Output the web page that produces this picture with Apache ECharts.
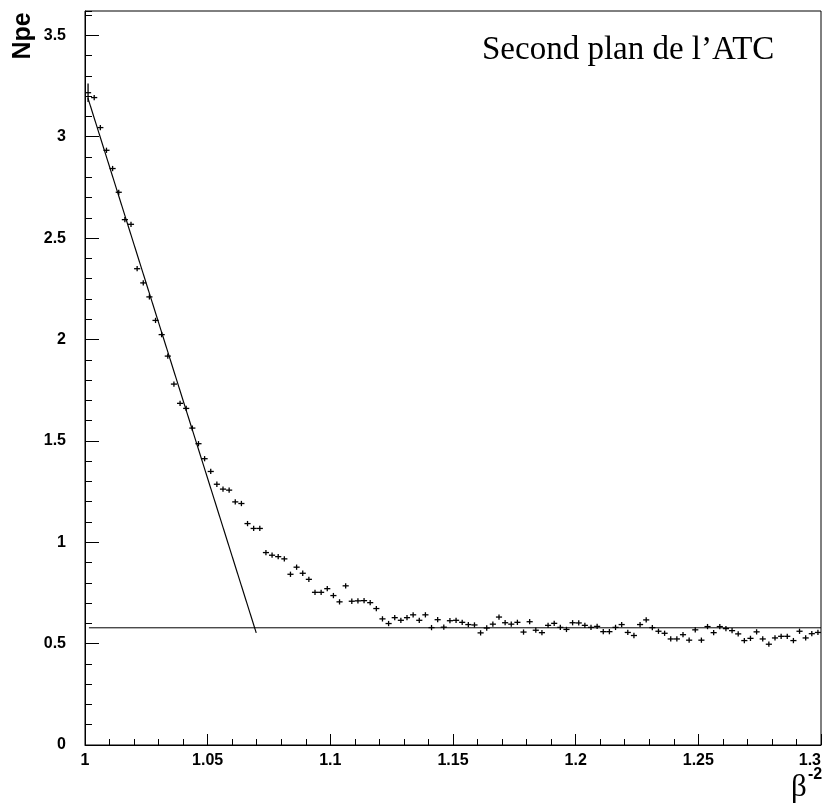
<!DOCTYPE html>
<html>
<head>
<meta charset="utf-8">
<script src="https://cdn.jsdelivr.net/npm/echarts@6/dist/echarts.min.js"></script>
<style>html,body{margin:0;padding:0;background:#fff;}#c{width:832px;height:806px;}</style>
</head>
<body>
<div id="c"></div>
<script>
// Histogram binning (x = beta^-2)
const binLow = 1.0;
const binWidth = 0.0025;
// Npe per bin (120 bins from 1.0 to 1.3)
const npe = [
  3.217, 3.193, 3.045, 2.933, 2.843, 2.726, 2.591, 2.568, 2.349, 2.279,
  2.210, 2.094, 2.024, 1.918, 1.780, 1.685, 1.660, 1.563, 1.486, 1.412,
  1.349, 1.286, 1.262, 1.257, 1.199, 1.191, 1.092, 1.068, 1.068, 0.949,
  0.936, 0.929, 0.918, 0.842, 0.877, 0.847, 0.817, 0.753, 0.753, 0.771,
  0.737, 0.706, 0.785, 0.709, 0.711, 0.712, 0.702, 0.673, 0.622, 0.599,
  0.628, 0.615, 0.628, 0.642, 0.615, 0.642, 0.579, 0.618, 0.581, 0.613,
  0.615, 0.605, 0.594, 0.592, 0.553, 0.577, 0.596, 0.631, 0.603, 0.596,
  0.605, 0.557, 0.608, 0.566, 0.554, 0.590, 0.600, 0.580, 0.570, 0.603,
  0.602, 0.590, 0.580, 0.585, 0.559, 0.559, 0.580, 0.594, 0.555, 0.540,
  0.594, 0.617, 0.579, 0.561, 0.551, 0.523, 0.523, 0.544, 0.517, 0.568,
  0.517, 0.584, 0.554, 0.584, 0.574, 0.564, 0.548, 0.515, 0.526, 0.558,
  0.523, 0.497, 0.528, 0.536, 0.536, 0.515, 0.561, 0.528, 0.549, 0.555
];
// vertical error bars
const errFirst = 0.046;
const errOther = 0.013;
// fitted straight line (steep part) and flat background level
const fitSteep = [[1.0012, 3.19], [1.0698, 0.553]];
const fitFlat = [[1.0016, 0.578], [1.3, 0.578]];
// axes
const xMin = 1.0, xMax = 1.3, xMajor = 0.05;
const yMin = 0, yMax = 3.62, yMajor = 0.5, yMinor = 0.1;

const points = npe.map((v, i) => [binLow + binWidth * (i + 0.5), v, i === 0 ? errFirst : errOther]);

const chart = echarts.init(document.getElementById('c'), null, {renderer: 'canvas'});
const labelFont = {fontFamily: 'Liberation Sans, Arial, sans-serif', fontWeight: 'bold', fontSize: 16, color: '#000'};

chart.setOption({
  animation: false,
  backgroundColor: '#fff',
  grid: {left: 85, right: 11, top: 11, bottom: 61, show: true, borderColor: '#000', borderWidth: 1, backgroundColor: 'transparent'},
  xAxis: [{
    type: 'value', min: xMin, max: xMax, interval: xMajor,
    axisLine: {show: true, lineStyle: {color: '#000', width: 1}},
    axisTick: {show: true, inside: true, length: 11, lineStyle: {color: '#000'}},
    minorTick: {show: true, splitNumber: 5, length: 6, lineStyle: {color: '#000'}},
    splitLine: {show: false},
    axisLabel: Object.assign({margin: 8, alignMaxLabel: 'right', formatter: v => String(+v.toFixed(2))}, labelFont)
  }],
  yAxis: [{
    type: 'value', min: yMin, max: yMax, interval: yMajor,
    axisLine: {show: true, lineStyle: {color: '#000', width: 1}},
    axisTick: {show: true, inside: true, length: 14, lineStyle: {color: '#000'}},
    splitLine: {show: false},
    axisLabel: Object.assign({margin: 19, showMaxLabel: false, formatter: v => String(+v.toFixed(2))}, labelFont)
  }, {
    type: 'value', min: yMin, max: yMax, interval: yMinor, position: 'left',
    axisLine: {show: false},
    axisTick: {show: true, inside: true, length: 7, lineStyle: {color: '#000'}},
    splitLine: {show: false},
    axisLabel: {show: false}
  }],
  series: [{
    type: 'custom',
    data: points,
    renderItem: function (params, api) {
      const x = api.value(0), y = api.value(1), e = api.value(2);
      const hw = binWidth * 0.5;
      const l = api.coord([x - hw, y]);
      const r = api.coord([x + hw, y]);
      const t = api.coord([x, y + e]);
      const b = api.coord([x, y - e]);
      const st = {stroke: '#000', lineWidth: 1.3};
      return {type: 'group', children: [
        {type: 'line', shape: {x1: l[0], y1: l[1], x2: r[0], y2: r[1]}, style: st},
        {type: 'line', shape: {x1: t[0], y1: t[1], x2: b[0], y2: b[1]}, style: st}
      ]};
    }
  }, {
    type: 'line', data: fitSteep, symbol: 'none', lineStyle: {color: '#000', width: 1.2}
  }, {
    type: 'line', data: fitFlat, symbol: 'none', lineStyle: {color: '#000', width: 1}
  }],
  graphic: [
    {type: 'text', left: 482, top: 34, style: {text: 'Second plan de l\u2019ATC', font: '33px "Liberation Serif", "Times New Roman", serif', fill: '#000'}},
    {type: 'text', x: 23, y: 36, rotation: Math.PI / 2, style: {text: 'Npe', font: 'bold 25px "Liberation Sans", Arial, sans-serif', fill: '#000', align: 'center', verticalAlign: 'middle'}},
    {type: 'text', x: 799, y: 788, style: {text: '\u03b2', font: '31px "Liberation Serif", "Times New Roman", serif', fill: '#000', align: 'center', verticalAlign: 'middle'}},
    {type: 'text', x: 815, y: 775, style: {text: '-2', font: 'bold 16px "Liberation Sans", Arial, sans-serif', fill: '#000', align: 'center', verticalAlign: 'middle'}}
  ]
});
</script>
</body>
</html>
